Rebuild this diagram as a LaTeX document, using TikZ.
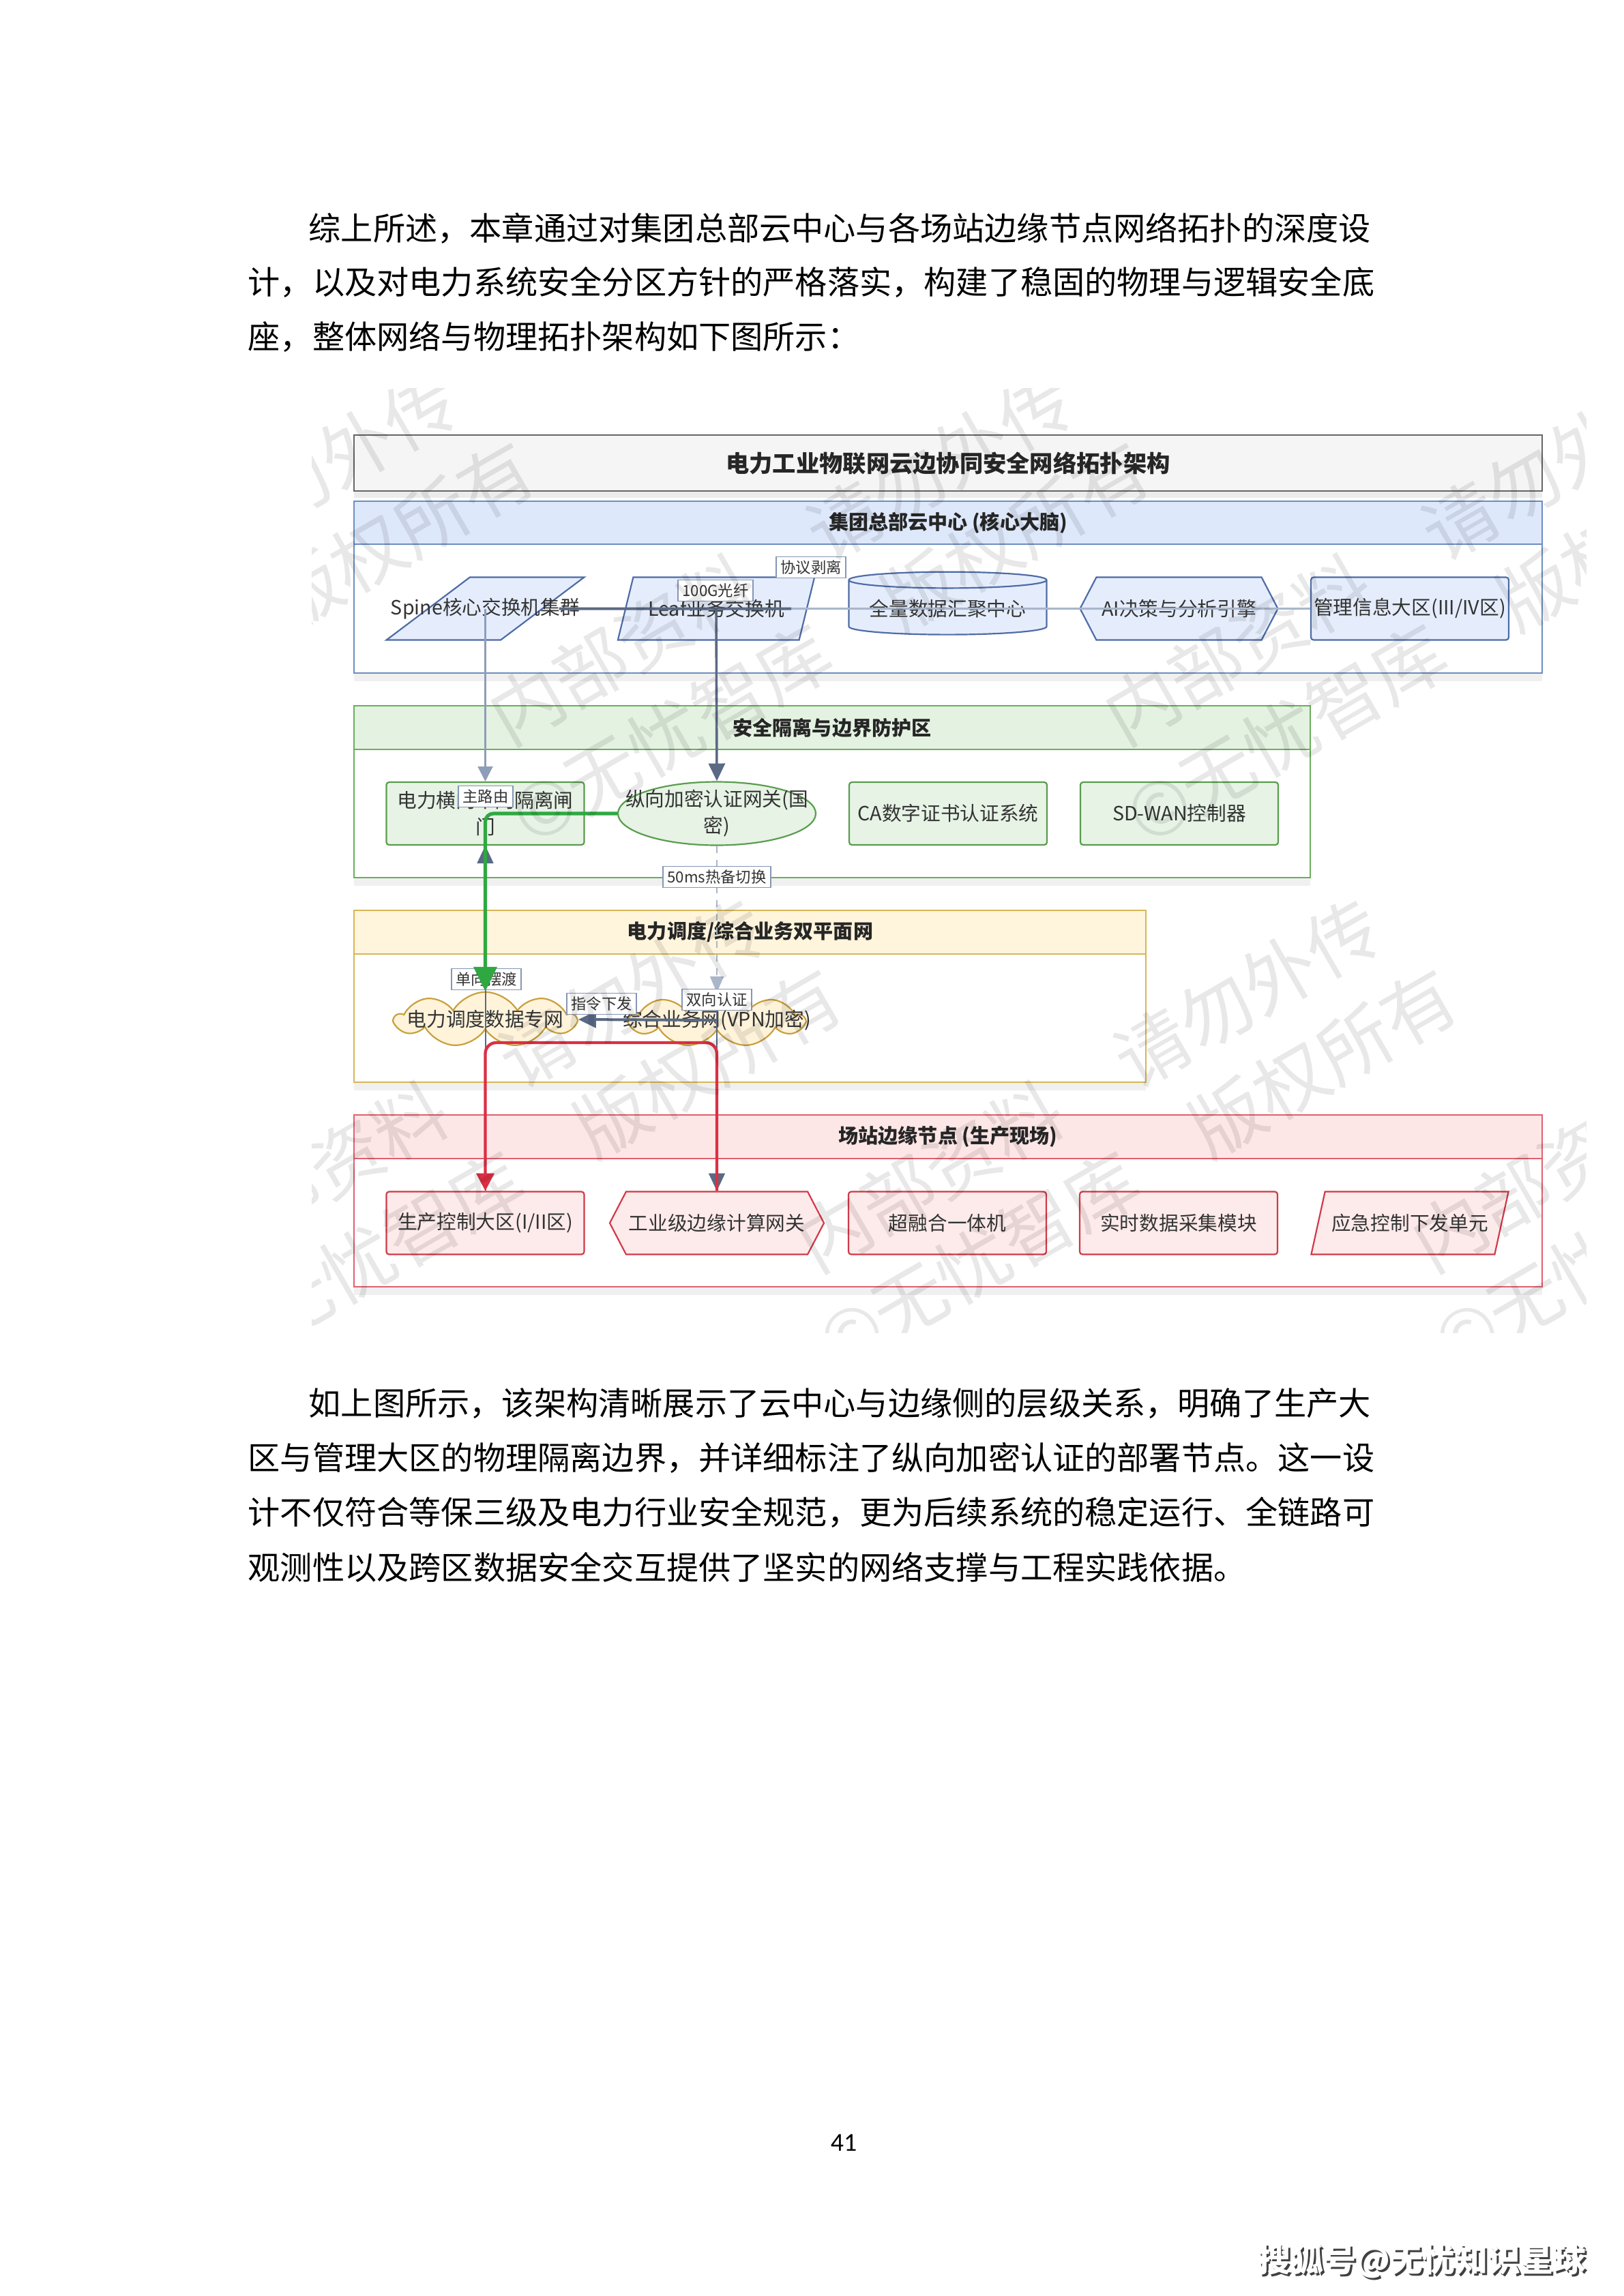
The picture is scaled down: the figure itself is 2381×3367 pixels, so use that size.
\documentclass[tikz,border=0pt]{standalone}
\usepackage{fontspec}
\setmainfont{Noto Sans CJK SC}
\newfontfamily\pnfont{Carlito}
\usetikzlibrary{arrows.meta,positioning,calc,shapes.geometric,shapes.symbols,shadows}
\definecolor{ttlfill}{HTML}{F5F5F5}
\definecolor{ttldraw}{HTML}{666666}
\definecolor{bluedraw}{HTML}{6C8EBF}
\definecolor{bluehd}{HTML}{DEE8FB}
\definecolor{bluefill}{HTML}{E5EDFC}
\definecolor{bluenode}{HTML}{4F6CA6}
\definecolor{greendraw}{HTML}{6AAE5C}
\definecolor{greenhd}{HTML}{E4F2E2}
\definecolor{greenfill}{HTML}{E6F3E5}
\definecolor{greennode}{HTML}{5A9C4E}
\definecolor{yeldraw}{HTML}{D6B656}
\definecolor{yelhd}{HTML}{FFF5DC}
\definecolor{yelfill}{HTML}{FFF3DA}
\definecolor{yelnode}{HTML}{C9A03C}
\definecolor{reddraw}{HTML}{E06070}
\definecolor{redhd}{HTML}{FDE6E6}
\definecolor{redfill}{HTML}{FDEAEA}
\definecolor{rednode}{HTML}{D03A4A}
\definecolor{lightedge}{HTML}{8E9EB8}
\definecolor{darkedge}{HTML}{5A6984}
\definecolor{paleedge}{HTML}{A9B6CA}
\definecolor{greenedge}{HTML}{2FA842}
\definecolor{rededge}{HTML}{DC2F44}
\definecolor{lbldraw}{HTML}{8596B4}
\definecolor{nodetext}{HTML}{333333}
\tikzset{
  para/.style={anchor=west,inner sep=0pt,font=\fontsize{11.84}{14}\selectfont},
  titlebox/.style={draw=ttldraw,fill=ttlfill,line width=0.7pt,
    drop shadow={opacity=0.15,shadow xshift=0pt,shadow yshift=-2.5pt}},
  zone/.style={draw=#1,fill=white,line width=0.6pt,
    drop shadow={opacity=0.12,shadow xshift=0pt,shadow yshift=-3pt}},
  band/.style={draw=#1,line width=0.6pt},
  ttl/.style={font=\bfseries\fontsize{8.6}{10}\selectfont,text=black!85},
  hd/.style={font=\bfseries\fontsize{7.3}{9}\selectfont,text=black!85},
  txt/.style={font=\fontsize{7.2}{9.8}\selectfont,text=nodetext,align=center,inner sep=0pt},
  nd/.style={txt,inner sep=1pt,line width=0.55pt,minimum width=2.558cm,minimum height=0.811cm},
  boxnd/.style={nd,rectangle,rounded corners=1pt},
  slant/.style={nd,trapezium,trapezium left angle=61,trapezium right angle=119,
    trapezium stretches=true},
  hexa/.style={nd,signal,signal to=east and west,signal pointer angle=125},
  drum/.style={nd,cylinder,shape border rotate=90,aspect=0.1},
  oval/.style={nd,ellipse,inner sep=0pt},
  puff/.style={nd,cloud,cloud puffs=9,cloud puff arc=120,cloud ignores aspect,inner sep=0pt},
  bz/.style={draw=bluenode,fill=bluefill},
  gz/.style={draw=greennode,fill=greenfill},
  yz/.style={draw=yelnode,fill=yelfill},
  rz/.style={draw=rednode,fill=redfill},
  lbl/.style={draw=lbldraw,fill=white,line width=0.4pt,font=\fontsize{5.6}{6.5}\selectfont,
    text=nodetext,inner xsep=1.6pt,inner ysep=1.3pt},
  lgtarr/.style={draw=lightedge,line width=0.55pt,-{Triangle[length=5.5pt,width=5.5pt]}},
  drkarr/.style={draw=darkedge,line width=0.9pt,-{Triangle[length=6.5pt,width=6pt]}},
  dsharr/.style={draw=paleedge,line width=0.5pt,dash pattern=on 2.5pt off 2.5pt,
    -{Triangle[length=6pt,width=5pt]}},
  grnarr/.style={draw=greenedge,line width=1.3pt,rounded corners=3pt,
    -{Triangle[length=9pt,width=8.5pt]}},
  rdarr/.style={draw=rededge,line width=1.1pt,rounded corners=4pt,
    -{Triangle[length=6.5pt,width=6.5pt]}},
  wm/.style={rotate=30,align=center,opacity=0.09,text=black,
    font=\fontsize{27}{36}\selectfont},
}
\begin{document}
\begin{tikzpicture}[x=0.0088198cm,y=-0.0088198cm]
  \useasboundingbox (0,0) rectangle (2381,3367);
  % 正文
  \node[para] (p1a) at (452,335) {综上所述，本章通过对集团总部云中心与各场站边缘节点网络拓扑的深度设};
  \node[para] (p1b) at (363,414) {计，以及对电力系统安全分区方针的严格落实，构建了稳固的物理与逻辑安全底};
  \node[para] (p1c) at (363,494) {座，整体网络与物理拓扑架构如下图所示：};
  \node[para] (p2a) at (452,2058) {如上图所示，该架构清晰展示了云中心与边缘侧的层级关系，明确了生产大};
  \node[para] (p2b) at (363,2138) {区与管理大区的物理隔离边界，并详细标注了纵向加密认证的部署节点。这一设};
  \node[para] (p2c) at (363,2218) {计不仅符合等保三级及电力行业安全规范，更为后续系统的稳定运行、全链路可};
  \node[para] (p2d) at (363,2298) {观测性以及跨区数据安全交互提供了坚实的网络支撑与工程实践依据。};
  \node[font=\pnfont\fontsize{9.5}{11}\selectfont] (pageno) at (1237,3142) {41};
  \node[font=\bfseries\fontsize{12}{14}\selectfont,text=black!75] (ftshadow) at (2088,3319) {搜狐号@无忧知识星球};
  \node[font=\bfseries\fontsize{12}{14}\selectfont,text=white] (ftmark) at (2085,3316) {搜狐号@无忧知识星球};

  % 标题与分区
  \draw[titlebox] (519,638) rectangle (2261,720);
  \node[ttl] (title) at (1390,679) {电力工业物联网云边协同安全网络拓扑架构};
  \draw[zone=bluedraw] (519,735) rectangle (2261,987);
  \draw[band=bluedraw,fill=bluehd] (519,735) rectangle (2261,798);
  \node[hd] (hq) at (1390,766.5) {集团总部云中心 (核心大脑)};
  \draw[zone=greendraw] (519,1035) rectangle (1921,1287);
  \draw[band=greendraw,fill=greenhd] (519,1035) rectangle (1921,1099);
  \node[hd] (sec) at (1220,1067) {安全隔离与边界防护区};
  \draw[zone=yeldraw] (519,1335) rectangle (1680,1587);
  \draw[band=yeldraw,fill=yelhd] (519,1335) rectangle (1680,1399);
  \node[hd] (plane) at (1100,1367) {电力调度/综合业务双平面网};
  \draw[zone=reddraw] (519,1635) rectangle (2261,1887);
  \draw[band=reddraw,fill=redhd] (519,1635) rectangle (2261,1699);
  \node[hd] (site) at (1390,1667) {场站边缘节点 (生产现场)};

  % 节点
  \node[slant,bz] (spine) at (711.5,892.5) {\makebox[0pt]{Spine核心交换机集群}};
  \node[slant,bz] (leaf) at (1050,892.5) {Leaf业务交换机};
  \node[drum,bz] (dc) at (1389.5,892.5) {全量数据汇聚中心};
  \node[hexa,bz] (ai) at (1728.5,892.5) {AI决策与分析引擎};
  \node[boxnd,bz] (mgmt) at (2067,892.5) {管理信息大区(III/IV区)};

  \node[boxnd,gz] (gate) at (711.5,1193) {电力横向单向隔离闸\\门};
  \node[oval,gz,minimum width=2.558cm,minimum height=0.82cm] (vgw) at (1051,1193) {};
  \node[txt] (vgwtxt) at (vgw) {纵向加密认证网关(国\\密)};
  \node[boxnd,gz] (ca) at (1390,1193) {CA数字证书认证系统};
  \node[boxnd,gz] (sdwan) at (1729,1193) {SD-WAN控制器};

  \node[puff,yz,minimum width=2.33cm,minimum height=0.71cm] (cloud1) at (711.5,1495) {};
  \node[txt] (cloud1txt) at (cloud1) {电力调度数据专网};
  \node[puff,yz,minimum width=2.25cm,minimum height=0.69cm] (cloud2) at (1051,1496) {};
  \node[txt] (cloud2txt) at (cloud2) {综合业务网(VPN加密)};

  \node[boxnd,rz] (prod) at (711.5,1793.5) {生产控制大区(I/II区)};
  \node[hexa,rz] (edgegw) at (1051,1793.5) {工业级边缘计算网关};
  \node[boxnd,rz] (hci) at (1389,1793.5) {超融合一体机};
  \node[boxnd,rz] (rtdata) at (1728,1793.5) {实时数据采集模块};
  \node[slant,rz] (emerg) at (2067,1793.5) {应急控制下发单元};

  % 连线
  \coordinate (lfend) at ([xshift=-0.21cm]leaf.east);
  \draw[draw=paleedge,line width=0.75pt] (lfend) -- (mgmt.west);
  \draw[draw=darkedge,line width=1pt] ([xshift=0.2cm]spine.east) -- (lfend);
  \draw[lgtarr] (spine.center) -- (gate.north);
  \draw[drkarr] (leaf.center) -- (vgw.north);
  \draw[drkarr,line width=0.5pt] (prod.north) -- (gate.south);
  \draw[dsharr] (vgw.south) -- (cloud2.north);
  \draw[drkarr,line width=0.5pt] (cloud2.north) -- (edgegw.north);
  \draw[drkarr,line width=1pt] (cloud2.center) -- (cloud1.east);

  \node[lbl] (lproto) at (1189,832) {协议剥离};
  \node[lbl] (l100g) at (1049,866) {100G光纤};
  \node[lbl] (lmain) at (712,1168) {主路由};
  \node[lbl] (l50ms) at (1051,1286) {50ms热备切换};
  \node[lbl] (lferry) at (713,1436) {单向摆渡};
  \node[lbl] (lcmd) at (882,1472) {指令下发};
  \node[lbl] (lauth) at (1051,1466) {双向认证};

  \draw[grnarr] (vgw.west) -| (cloud1.north);
  \coordinate (redtop) at (880,1529);
  \draw[rdarr] (edgegw.north) |- (redtop) -| (prod.north);

  % 水印
  \begin{scope}
    \clip (457,569) rectangle (2325,1954);
    \foreach \wx/\wy [count=\k] in {-172/107,730/107,1632/107,2534/107,
        279/880,1181/880,2083/880,-172/1653,730/1653,1632/1653,2534/1653,
        279/2426,1181/2426,2083/2426}
      \node[wm] (wm\k) at (\wx,\wy) {内部资料　请勿外传\\©无忧智库　版权所有};
  \end{scope}
\end{tikzpicture}
\end{document}
